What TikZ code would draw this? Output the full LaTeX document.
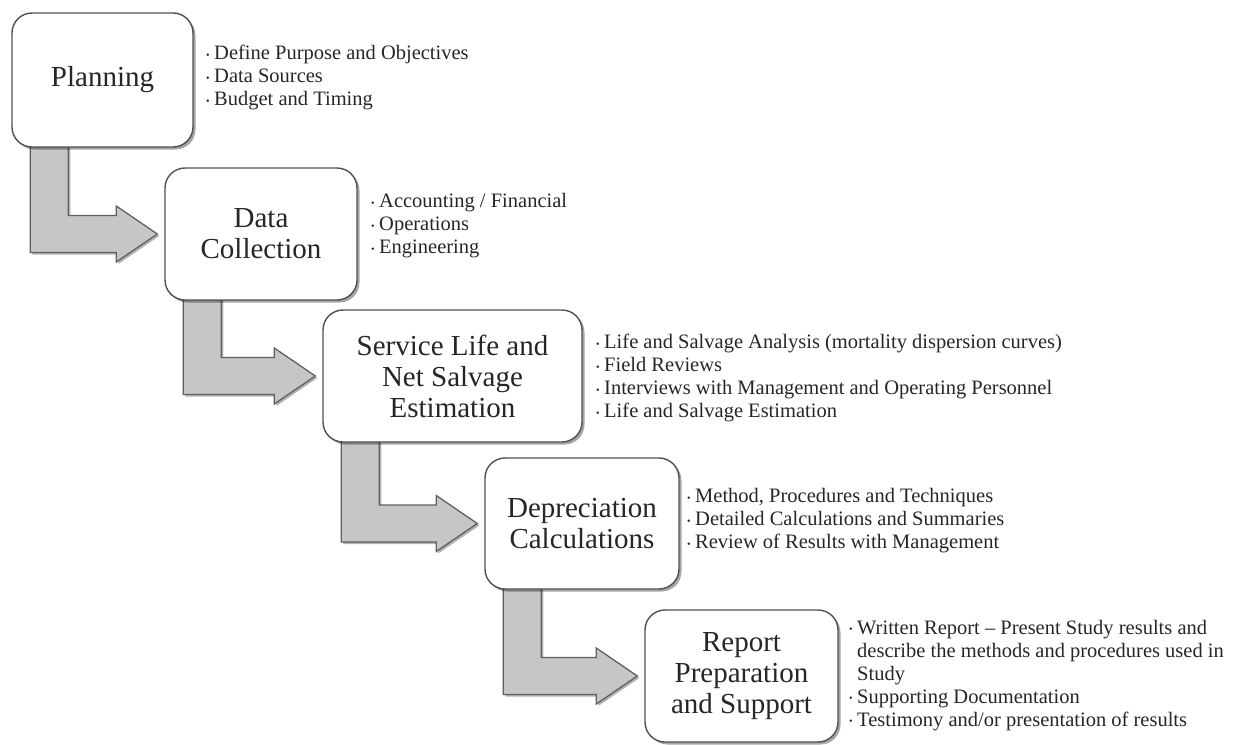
\documentclass[tikz,border=0pt]{standalone}
\usepackage{fontspec}
\setmainfont{Liberation Serif}
\usetikzlibrary{calc,shadows}
\definecolor{boxc}{HTML}{505050}
\definecolor{arrc}{HTML}{C6C6C6}
\definecolor{arrd}{HTML}{606060}
\definecolor{txtc}{HTML}{262626}
\pgfdeclarelayer{bg}
\pgfsetlayers{bg,main}
\newcommand\bl{\makebox[8pt][l]{\raisebox{1.5pt}{\fontsize{10}{10}\selectfont •}}}
\newcommand\flowarrow[2]{%
  \path[flowarr] let \p1=(#1.south west), \p2=(#2.west) in
    (\x1+19pt,\y1+8pt) -- (\x1+57pt,\y1+8pt) -- (\x1+57pt,\y2+18.5pt)
    -- (\x2-48pt,\y2+18.5pt) -- (\x2-48pt,\y2+28pt) -- (\x2-7pt,\y2)
    -- (\x2-48pt,\y2-28pt) -- (\x2-48pt,\y2-18.5pt) -- (\x1+19pt,\y2-18.5pt) -- cycle;}
\tikzset{
  stagebox/.style={draw=boxc, line width=1.4pt, fill=white, rounded corners=20pt,
    align=center, text=txtc, font=\fontsize{29}{31}\selectfont,
    drop shadow={shadow xshift=2.5pt, shadow yshift=-2.5pt, opacity=0.35, fill=black}},
  bullets/.style={anchor=west, align=left, text=txtc, inner sep=0pt,
    font=\fontsize{20.5}{23}\selectfont},
  flowarr/.style={fill=arrc, draw=arrd, line width=1.3pt, line join=miter,
    drop shadow={shadow xshift=2pt, shadow yshift=-2pt, opacity=0.3, fill=black}}
}
\begin{document}
\begin{tikzpicture}[x=1pt,y=-1pt]
\useasboundingbox (0,0) rectangle (1236,744);
\node[stagebox, minimum width=181pt, minimum height=134pt] (plan) at (102.5,80) {Planning};
\node[stagebox, minimum width=192pt, minimum height=132pt] (data) at (261,234) {Data\\Collection};
\node[stagebox, minimum width=259pt, minimum height=132pt] (serv) at (452.5,376) {Service Life and\\Net Salvage\\Estimation};
\node[stagebox, minimum width=194pt, minimum height=131pt] (depr) at (582,523.5) {Depreciation\\Calculations};
\node[stagebox, minimum width=193pt, minimum height=132pt] (repo) at (741.5,676) {Report\\Preparation\\and Support};

\begin{pgfonlayer}{bg}
\flowarrow{plan}{data}
\flowarrow{data}{serv}
\flowarrow{serv}{depr}
\flowarrow{depr}{repo}
\end{pgfonlayer}

\node[bullets] (tplan) at (206,77.5) {\bl Define Purpose and Objectives\\ \bl Data Sources\\ \bl Budget and Timing};
\node[bullets] (tdata) at (371,226) {\bl Accounting / Financial\\ \bl Operations\\ \bl Engineering};
\node[bullets] (tserv) at (596,378) {\bl Life and Salvage Analysis (mortality dispersion curves)\\ \bl Field Reviews\\ \bl Interviews with Management and Operating Personnel\\ \bl Life and Salvage Estimation};
\node[bullets] (tdepr) at (687,521) {\bl Method, Procedures and Techniques\\ \bl Detailed Calculations and Summaries\\ \bl Review of Results with Management};
\node[bullets] (trepo) at (849,675.5) {\bl Written Report – Present Study results and\\ \hspace*{8pt}describe the methods and procedures used in\\ \hspace*{8pt}Study\\ \bl Supporting Documentation\\ \bl Testimony and/or presentation of results};
\end{tikzpicture}
\end{document}
